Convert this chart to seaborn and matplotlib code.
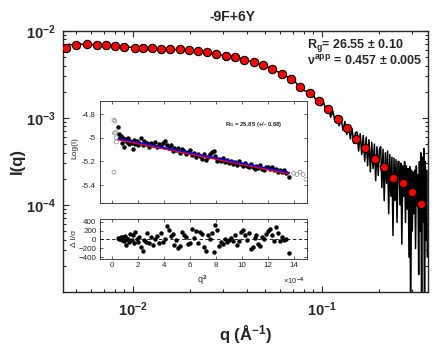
import numpy as np
import matplotlib
matplotlib.use("Agg")
import matplotlib.pyplot as plt
import seaborn as sns
from matplotlib.ticker import LogLocator, NullFormatter, FixedLocator, FixedFormatter

# ---------------- data ----------------
# binned (red) points
q_bin = [0.00442, 0.00499, 0.00571, 0.00643, 0.00717, 0.00803, 0.00900, 0.0102, 0.0113, 0.0126,
         0.0141, 0.0158, 0.0177, 0.0198, 0.0221, 0.0246, 0.0276, 0.0309, 0.0346, 0.0388,
         0.0435, 0.0487, 0.0546, 0.0612, 0.0685, 0.0768, 0.0861, 0.0964, 0.108, 0.121,
         0.135, 0.151, 0.169, 0.190, 0.213, 0.238, 0.267, 0.299, 0.333]
I_bin = [6.32e-3, 6.90e-3, 7.03e-3, 6.97e-3, 6.90e-3, 6.78e-3, 6.55e-3, 6.43e-3, 6.38e-3, 6.32e-3,
         6.27e-3, 6.21e-3, 6.17e-3, 6.05e-3, 5.89e-3, 5.74e-3, 5.48e-3, 5.20e-3, 5.02e-3, 4.68e-3,
         4.37e-3, 4.04e-3, 3.63e-3, 3.21e-3, 2.79e-3, 2.29e-3, 1.92e-3, 1.55e-3, 1.26e-3, 9.75e-4,
         7.62e-4, 5.69e-4, 4.52e-4, 3.40e-4, 2.75e-4, 2.06e-4, 1.80e-4, 1.41e-4, 1.03e-4]

# raw data (black line), log10 intensity
q_raw = [0.0044, 0.0046, 0.0048, 0.0052, 0.0060, 0.0070, 0.0085, 0.010, 0.013, 0.016,
         0.020, 0.025, 0.030, 0.035, 0.040, 0.045, 0.050, 0.055,
         0.060, 0.063, 0.066, 0.069, 0.072, 0.075, 0.078, 0.081, 0.084, 0.087, 0.090, 0.093, 0.096, 0.099,
         0.102, 0.105, 0.108, 0.111, 0.114, 0.117, 0.120, 0.123, 0.126, 0.129, 0.132, 0.135, 0.138, 0.141,
         0.144, 0.147, 0.150,
         0.153, 0.156, 0.159, 0.162, 0.165, 0.168, 0.171, 0.174, 0.177, 0.180, 0.183, 0.186, 0.189, 0.192,
         0.195, 0.198, 0.201,
         0.204, 0.207, 0.210, 0.213, 0.216, 0.219, 0.222, 0.225, 0.228, 0.231, 0.234, 0.237, 0.240, 0.243,
         0.246, 0.249, 0.252,
         0.255, 0.258, 0.261, 0.264, 0.267, 0.270, 0.273, 0.276, 0.279, 0.282, 0.285, 0.288, 0.291, 0.294,
         0.297, 0.300, 0.303,
         0.306, 0.309, 0.312, 0.315, 0.318, 0.321, 0.324, 0.327, 0.330, 0.333, 0.336, 0.339, 0.342, 0.345,
         0.348, 0.351, 0.354, 0.357, 0.360]
logI_raw = [-2.19, -2.15, -2.165, -2.15, -2.155, -2.16, -2.175, -2.19, -2.205, -2.212,
            -2.22, -2.245, -2.28, -2.30, -2.335, -2.37, -2.40, -2.445,
            -2.48, -2.52, -2.525, -2.575, -2.58, -2.635, -2.64, -2.69, -2.69, -2.745, -2.735, -2.80, -2.79, -2.86,
            -2.82, -2.93, -2.86, -2.99, -2.92, -3.04, -2.97, -3.09, -3.01, -3.14, -3.04, -3.19, -3.08, -3.24,
            -3.12, -3.29, -3.17,
            -3.16, -3.38, -3.18, -3.42, -3.20, -3.50, -3.22, -3.55, -3.25, -3.62, -3.28, -3.58, -3.30, -3.72,
            -3.33, -3.66, -3.36,
            -3.33, -3.80, -3.36, -3.95, -3.40, -3.75, -3.38, -4.10, -3.42, -3.90, -3.45, -4.35, -3.46, -3.95,
            -3.48, -4.20, -3.50,
            -3.50, -4.00, -3.52, -4.45, -3.55, -3.90, -3.50, -4.20, -3.55, -4.05, -3.58, -4.60, -3.56, -5.40,
            -3.60, -4.30, -3.62,
            -4.10, -3.60, -4.50, -3.55, -4.00, -3.65, -4.80, -3.50, -4.30, -3.40, -5.50, -3.45, -4.20, -3.35,
            -5.60, -3.50, -4.40, -3.60, -4.60]

# Guinier inset (x in units of 1e-4)
q2_pts = [0.50, 0.55, 0.62, 0.70, 0.78, 0.85, 0.92, 1.00, 1.08, 1.15, 1.22, 1.30, 1.40, 1.50, 1.60,
          1.70, 1.80, 1.90, 2.00, 2.10, 2.22, 2.35, 2.48, 2.60, 2.72, 2.85, 3.00, 3.15, 3.30, 3.45,
          3.60, 3.75, 3.90, 4.05, 4.20, 4.35, 4.50, 4.65, 4.80, 4.95, 5.10, 5.25, 5.40, 5.55, 5.70,
          5.85, 6.00, 6.15, 6.30, 6.45, 6.60, 6.75, 6.90, 7.05, 7.20, 7.35, 7.50, 7.65, 7.80, 7.95,
          8.10, 8.25, 8.40, 8.55, 8.70, 8.85, 9.00, 9.15, 9.30, 9.45, 9.60, 9.75, 9.90, 10.05, 10.20,
          10.35, 10.50, 10.65, 10.80, 10.95, 11.10, 11.25, 11.40, 11.55, 11.70, 11.85, 12.00, 12.15,
          12.30, 12.45, 12.60, 12.75, 12.90, 13.05, 13.20, 13.35, 13.60]
logI_pts = [-4.910, -4.970, -5.000, -4.985, -5.040, -5.005, -5.075, -5.020, -5.010, -5.035, -5.000,
            -5.050, -5.030, -5.045, -5.095, -5.020, -5.055, -5.030, -5.060, -5.040, -5.005, -5.065,
            -5.030, -5.055, -5.045, -5.075, -5.040, -5.060, -5.035, -5.080, -5.050, -5.070, -5.045,
            -5.030, -5.065, -5.090, -5.060, -5.110, -5.085, -5.100, -5.090, -5.125, -5.095, -5.115,
            -5.140, -5.120, -5.105, -5.145, -5.130, -5.160, -5.135, -5.150, -5.175, -5.140, -5.190,
            -5.160, -5.135, -5.120, -5.110, -5.150, -5.200, -5.180, -5.195, -5.170, -5.205, -5.185,
            -5.210, -5.195, -5.220, -5.205, -5.230, -5.200, -5.225, -5.240, -5.210, -5.235, -5.250,
            -5.225, -5.245, -5.265, -5.240, -5.255, -5.230, -5.260, -5.270, -5.250, -5.245, -5.265,
            -5.250, -5.275, -5.260, -5.290, -5.270, -5.285, -5.275, -5.295, -5.330]
resid_pts = [40, 20, 0, 60, -15, 45, -30, 75, -130, 20, 0, -50, 130, -15, 100, -90, 170, 0, -50, 60,
             -165, -255, -15, -50, 135, -90, 45, -130, 0, 75, -75, 150, -50, 0, 300, 210, 75, 130, -130,
             -15, -200, -150, 170, 100, 60, -100, -75, 240, 30, 200, -75, 160, 120, -180, -260, 110, 0,
             150, -290, 320, 210, -150, -50, -100, 20, -60, -15, 30, -30, 90, -130, -45, 175, 220, 100,
             -20, 150, -210, -180, 40, 110, -100, -150, 60, 0, 120, 180, 230, 90, -30, 290, 150, -40, 50,
             -20, 20, -310]
q2_excl = [0.15, 0.22, 0.18, 0.28, 0.33, 0.33, 0.15, 13.95, 14.20, 14.46, 14.67, 14.90]
logI_excl = [-4.85, -4.86, -4.96, -4.955, -5.00, -5.035, -5.29, -5.30, -5.31, -5.29, -5.31, -5.35]
fit_q2 = [0.5, 13.6]
fit_blue = [-5.010, -5.296]
fit_red = [-5.018, -5.305]

# ---------------- style ----------------
sns.set_style("ticks")
plt.rcParams['font.family'] = ['Liberation Sans', 'DejaVu Sans']
plt.rcParams['mathtext.fontset'] = 'custom'
plt.rcParams['mathtext.rm'] = 'Liberation Sans:bold'
plt.rcParams['mathtext.bf'] = 'Liberation Sans:bold'
plt.rcParams['mathtext.it'] = 'Liberation Sans:italic:bold'
plt.rcParams['mathtext.default'] = 'bf'

W, H = 434, 350
fig = plt.figure(figsize=(W / 100, H / 100), dpi=100)

def box(x0, y0, x1, y1):
    return [x0 / W, 1 - y1 / H, (x1 - x0) / W, (y1 - y0) / H]

# ---------------- main axes ----------------
ax = fig.add_axes(box(63, 31, 428, 292))
ax.set_xscale('log')
ax.set_yscale('log')
sns.lineplot(x=q_raw, y=[10 ** v for v in logI_raw], ax=ax, color='black', linewidth=1.1,
             sort=False, estimator=None, zorder=2)
sns.scatterplot(x=q_bin, y=I_bin, ax=ax, color='red', edgecolor='black', linewidth=0.8,
                s=36, zorder=3, clip_on=True)
ax.set_xlim(0.00427, 0.363)
ax.set_ylim(1.0e-5, 1e-2)
ax.xaxis.set_major_locator(FixedLocator([1e-2, 1e-1]))
ax.xaxis.set_major_formatter(FixedFormatter([r'$\mathbf{10^{-2}}$', r'$\mathbf{10^{-1}}$']))
ax.yaxis.set_major_locator(FixedLocator([1e-4, 1e-3, 1e-2]))
ax.yaxis.set_major_formatter(FixedFormatter([r'$\mathbf{10^{-4}}$', r'$\mathbf{10^{-3}}$', r'$\mathbf{10^{-2}}$']))
ax.xaxis.set_minor_locator(LogLocator(base=10, subs=np.arange(2, 10)))
ax.yaxis.set_minor_locator(LogLocator(base=10, subs=np.arange(2, 10)))
ax.xaxis.set_minor_formatter(NullFormatter())
ax.yaxis.set_minor_formatter(NullFormatter())
ax.tick_params(which='both', direction='in', top=True, right=True, width=0.8, labelsize=10.5)
ax.tick_params(which='major', length=4)
ax.tick_params(which='minor', length=2)
ax.tick_params(axis='x', pad=6)
ax.tick_params(axis='y', pad=5)
for s in ax.spines.values():
    s.set_linewidth(1.0)
ax.set_xlabel(r'q (Å$^{-1}$)', fontsize=12, fontweight='bold', labelpad=3)
ax.set_ylabel('I(q)', fontsize=12, fontweight='bold', labelpad=1)

fig.text(233 / W, 1 - 17 / H, '-9F+6Y', ha='center', va='center', fontsize=10, fontweight='bold')
fig.text(307 / W, 1 - 46 / H, r'R$_{g}$= 26.55 ± 0.10', ha='left', va='center', fontsize=9,
         fontweight='bold')
fig.text(307 / W, 1 - 61 / H, r'ν$^{app}$ = 0.457 ± 0.005', ha='left', va='center', fontsize=9,
         fontweight='bold')

# ---------------- Guinier inset ----------------
ax1 = fig.add_axes(box(100, 101, 307, 203))
ax1.set_facecolor('white')
sns.scatterplot(x=q2_excl, y=logI_excl, ax=ax1, marker='o', s=8, facecolors='none',
                edgecolor='0.55', linewidth=0.5, zorder=2)
sns.scatterplot(x=q2_pts, y=logI_pts, ax=ax1, color='black', edgecolor='black', linewidth=0.3,
                s=8, zorder=3)
sns.lineplot(x=fit_q2, y=fit_blue, ax=ax1, color='blue', linewidth=1.6, estimator=None, sort=False,
             zorder=4)
sns.lineplot(x=fit_q2, y=fit_red, ax=ax1, color='red', linewidth=0.9, estimator=None, sort=False,
             zorder=5)
ax1.set_xlim(-0.92, 14.98)
ax1.set_ylim(-5.55, -4.69)
ax1.xaxis.set_major_locator(FixedLocator([0, 2, 4, 6, 8, 10, 12, 14]))
ax1.xaxis.set_major_formatter(NullFormatter())
ax1.yaxis.set_major_locator(FixedLocator([-5.4, -5.2, -5.0, -4.8]))
ax1.yaxis.set_major_formatter(FixedFormatter(['-5.4', '-5.2', '-5', '-4.8']))
ax1.tick_params(which='both', direction='in', top=True, right=True, length=2.2, width=0.5,
                labelsize=5.8, pad=3)
for s in ax1.spines.values():
    s.set_linewidth(0.6)
ax1.text(0.604, 0.765, r'R$_{G}$ = 25.85 (+/- 0.68)', transform=ax1.transAxes, fontsize=4.3,
         fontweight='bold', ha='left', va='center')
fig.text(75 / W, 1 - 148 / H, 'Log(I)', rotation=90, ha='center', va='center', fontsize=6)

# ---------------- residual inset ----------------
ax2 = fig.add_axes(box(100, 219, 307, 259))
ax2.set_facecolor('white')
ax2.axhline(0, color='black', linestyle=(0, (4, 3)), linewidth=0.6, zorder=1)
sns.scatterplot(x=q2_pts, y=resid_pts, ax=ax2, color='black', edgecolor='black', linewidth=0.3,
                s=8, zorder=3)
ax2.set_xlim(-0.92, 14.98)
ax2.set_ylim(-440, 460)
ax2.xaxis.set_major_locator(FixedLocator([0, 2, 4, 6, 8, 10, 12, 14]))
ax2.yaxis.set_major_locator(FixedLocator([-400, -200, 0, 200, 400]))
ax2.tick_params(which='both', direction='in', top=True, right=True, length=2.2, width=0.5,
                labelsize=5.8, pad=2.5)
for s in ax2.spines.values():
    s.set_linewidth(0.6)
fig.text(75 / W, 1 - 238 / H, 'Δ I/σ', rotation=90, ha='center', va='center', fontsize=6)
fig.text(202 / W, 1 - 280 / H, r'q$^{2}$', ha='center', va='center', fontsize=6.5)
fig.text(294 / W, 1 - 281 / H, r'×10$^{-4}$', ha='center', va='center', fontsize=5.5)

fig.savefig('out.png', dpi=100)
